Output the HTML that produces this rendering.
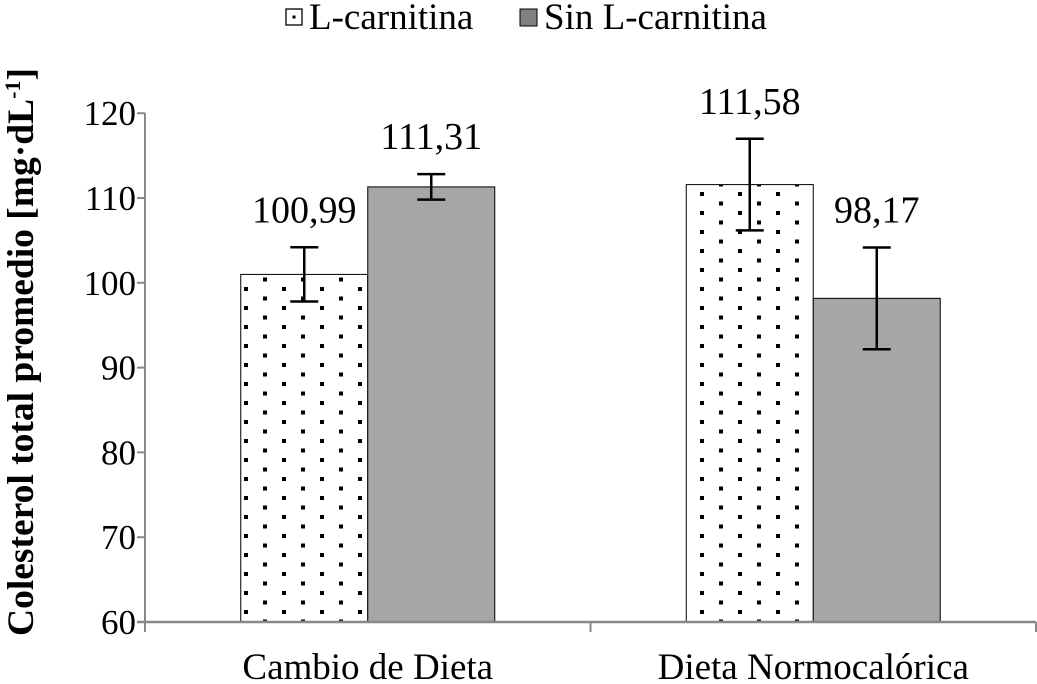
<!DOCTYPE html>
<html><head><meta charset="utf-8"><style>
body{margin:0;background:#fff;}
svg{display:block;font-family:"Liberation Serif",serif;}
</style></head><body>
<svg id="chart" width="1037" height="684" viewBox="0 0 1037 684">
<defs>
<pattern id="dots" width="38" height="19" patternUnits="userSpaceOnUse" x="240" y="0">
<rect width="38" height="19" fill="#fff"/>
<rect x="4" y="2" width="4" height="4" fill="#000"/>
<rect x="23" y="11.5" width="4" height="4" fill="#000"/>
</pattern>
</defs>
<g id="legend">
<g>
<rect x="286" y="9" width="16" height="16" fill="#fff" stroke="#000" stroke-width="1.3"/>
<rect x="292.5" y="15.5" width="3" height="3" fill="#000"/>
<text x="309" y="29" font-size="37">L-carnitina</text>
</g>
<g>
<rect x="520" y="9" width="17" height="17" fill="#808080" stroke="#000" stroke-width="1"/>
<text x="544" y="29" font-size="37">Sin L-carnitina</text>
</g>
</g>
<text transform="translate(33,352) rotate(-90)" text-anchor="middle" font-size="37.5" font-weight="bold">Colesterol total promedio [mg·dL<tspan dy="-13" font-size="22">-1</tspan><tspan dy="13">]</tspan></text>
<g id="axes"></g>
<g id="bars"></g>
</svg>
<script>
const categories = ["Cambio de Dieta", "Dieta Normocalórica"];
const lcarn = [100.99, 111.58];
const sinLcarn = [111.31, 98.17];
const lcarnErr = [3.2, 5.4];
const sinErr = [1.5, 6.0];
const yTicks = [60, 70, 80, 90, 100, 110, 120];

const NS = "http://www.w3.org/2000/svg";
const svg = document.getElementById('chart');
const axes = document.getElementById('axes');
const barsG = document.getElementById('bars');
const x0 = 145, x1 = 1036, yBase = 622, yMin = 60, pxPer = 8.48;
const y = v => yBase - (v - yMin) * pxPer;
const catW = (x1 - x0) / categories.length;
const cx = i => x0 + catW * (i + 0.5);
const bw = 127;
function mk(tag, attrs, parent) {
  const e = document.createElementNS(NS, tag);
  for (const k in attrs) e.setAttribute(k, attrs[k]);
  parent.appendChild(e);
  return e;
}
const ya = mk('line', {x1: x0, y1: y(120), x2: x0, y2: yBase, stroke: '#888', 'stroke-width': 2}, axes);


yTicks.forEach(t => {
  const tk = mk('line', {x1: x0 - 8, x2: x0, y1: y(t), y2: y(t), stroke: '#888', 'stroke-width': 2}, axes);
  
  
  const tl = mk('text', {x: x0 - 9, y: y(t) + 12, 'text-anchor': 'end', 'font-size': 35}, axes);
  tl.textContent = t;
  
  
});
categories.forEach((c, i) => {
  const bx = x0 + catW * (i + 1);
  const tk = mk('line', {x1: bx, x2: bx, y1: yBase, y2: yBase + 10, stroke: '#888', 'stroke-width': 2}, axes);
  
  
  const tl = mk('text', {x: cx(i), y: 679, 'text-anchor': 'middle', 'font-size': 37}, axes);
  tl.textContent = c;
  
  
});
const lt = mk('line', {x1: x0, x2: x0, y1: yBase, y2: yBase + 10, stroke: '#888', 'stroke-width': 2}, axes);


function bar(i, v, err, left, fill, name) {
  const bx = left ? cx(i) - bw : cx(i);
  const r = mk('rect', {x: bx, y: y(v), width: bw, height: yBase - y(v), fill: fill, stroke: '#000', 'stroke-width': 1}, barsG);
  
  
  const m = bx + bw / 2;
  const eg = mk('g', {stroke: '#000', 'stroke-width': 2.5}, barsG);
  
  
  mk('line', {x1: m, x2: m, y1: y(v + err), y2: y(v - err)}, eg);
  mk('line', {x1: m - 14, x2: m + 14, y1: y(v + err), y2: y(v + err)}, eg);
  mk('line', {x1: m - 14, x2: m + 14, y1: y(v - err), y2: y(v - err)}, eg);
  const lb = mk('text', {x: m, y: y(v + err) - 25, 'text-anchor': 'middle', 'font-size': 38}, barsG);
  lb.textContent = v.toFixed(2).replace('.', ',');
  
  
}
categories.forEach((c, i) => {
  bar(i, lcarn[i], lcarnErr[i], true, 'url(#dots)', 'bar-l-carnitina');
  bar(i, sinLcarn[i], sinErr[i], false, '#a6a6a6', 'bar-sin-l-carnitina');
});
const xa = mk('line', {x1: x0 - 8, x2: x1, y1: yBase, y2: yBase, stroke: '#888', 'stroke-width': 2.5}, svg);


</script>
</body></html>
